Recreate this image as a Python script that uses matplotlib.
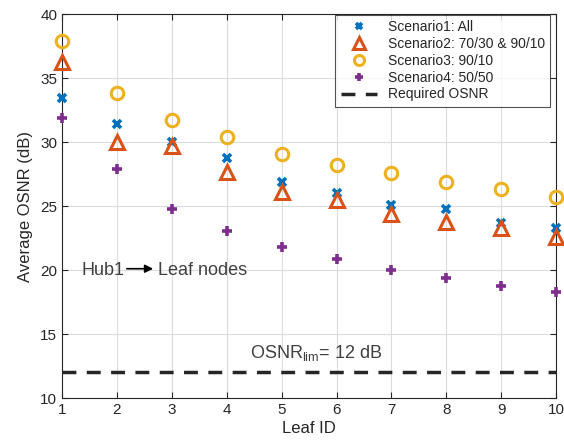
import matplotlib
matplotlib.use('Agg')
import matplotlib.pyplot as plt
import numpy as np

plt.rcParams['font.family'] = ['Liberation Sans', 'DejaVu Sans']
plt.rcParams['mathtext.fontset'] = 'custom'
plt.rcParams['mathtext.rm'] = 'Liberation Sans'

leaf_ids = np.arange(1, 11)
scenario1 = [33.4, 31.4, 30.0, 28.75, 26.9, 26.0, 25.1, 24.8, 23.7, 23.3]
scenario2 = [36.25, 30.0, 29.7, 27.65, 26.1, 25.5, 24.4, 23.75, 23.3, 22.55]
scenario3 = [37.9, 33.8, 31.7, 30.4, 29.1, 28.2, 27.6, 26.9, 26.3, 25.7]
scenario4 = [31.9, 27.9, 24.8, 23.05, 21.8, 20.85, 20.0, 19.4, 18.75, 18.3]
required_osnr = 12

text_col = '#262626'

fig = plt.figure(figsize=(5.64, 4.46), dpi=100)
ax = fig.add_axes([0.11, 0.1076, 0.876, 0.861])

ax.plot(leaf_ids, scenario1, ls='none', marker='x', ms=6, mew=2.6,
        color='#0072BD', label='Scenario1: All', zorder=3, clip_on=False)
ax.plot(leaf_ids, scenario2, ls='none', marker='^', ms=10, mew=2.2,
        mfc='none', color='#D95319', label='Scenario2: 70/30 & 90/10',
        zorder=3, clip_on=False)
ax.plot(leaf_ids, scenario3, ls='none', marker='o', ms=9, mew=2.2,
        mfc='none', color='#EDB120', label='Scenario3: 90/10', zorder=3,
        clip_on=False)
ax.plot(leaf_ids, scenario4, ls='none', marker='+', ms=7, mew=2.6,
        color='#7E2F8E', label='Scenario4: 50/50', zorder=3, clip_on=False)
ax.axhline(required_osnr, color='#262626', ls=(0, (4, 3)), lw=2.5,
           label='Required OSNR', zorder=2)

ax.set_xlim(1, 10)
ax.set_ylim(10, 40)
ax.set_xticks(leaf_ids)
ax.set_yticks(np.arange(10, 41, 5))
ax.grid(True, color='#dcdcdc', lw=0.8)
ax.set_axisbelow(True)
ax.tick_params(direction='in', top=True, right=True, labelsize=11,
               colors=text_col, length=4)
for s in ax.spines.values():
    s.set_color(text_col)
    s.set_linewidth(0.8)

ax.set_xlabel('Leaf ID', fontsize=12, color=text_col, labelpad=3)
ax.set_ylabel('Average OSNR (dB)', fontsize=12, color=text_col, labelpad=5)

# hub -> leaf note
ax.text(1.36, 20, 'Hub1', fontsize=13, color='#404040', va='center', ha='left')
ax.annotate('', xy=(2.66, 20.1), xytext=(2.18, 20.1),
            arrowprops=dict(arrowstyle='-|>', color='black', lw=1.2,
                            mutation_scale=12, shrinkA=0, shrinkB=0))
ax.text(2.75, 20, 'Leaf nodes', fontsize=13, color='#404040', va='center', ha='left')
ax.text(4.42, 13.5, r'OSNR$_{\mathrm{lim}}$= 12 dB', fontsize=13,
        color='#404040', va='center', ha='left')

leg = ax.legend(loc='upper right', bbox_to_anchor=(0.99, 1.0), fontsize=10,
                frameon=True, fancybox=False, edgecolor=text_col,
                borderpad=0.4, labelspacing=0.2, handlelength=2.6,
                borderaxespad=0.05, markerscale=0.8)
leg.get_frame().set_linewidth(0.8)
for t in leg.get_texts():
    t.set_color(text_col)

fig.savefig('out.png', dpi=100)
